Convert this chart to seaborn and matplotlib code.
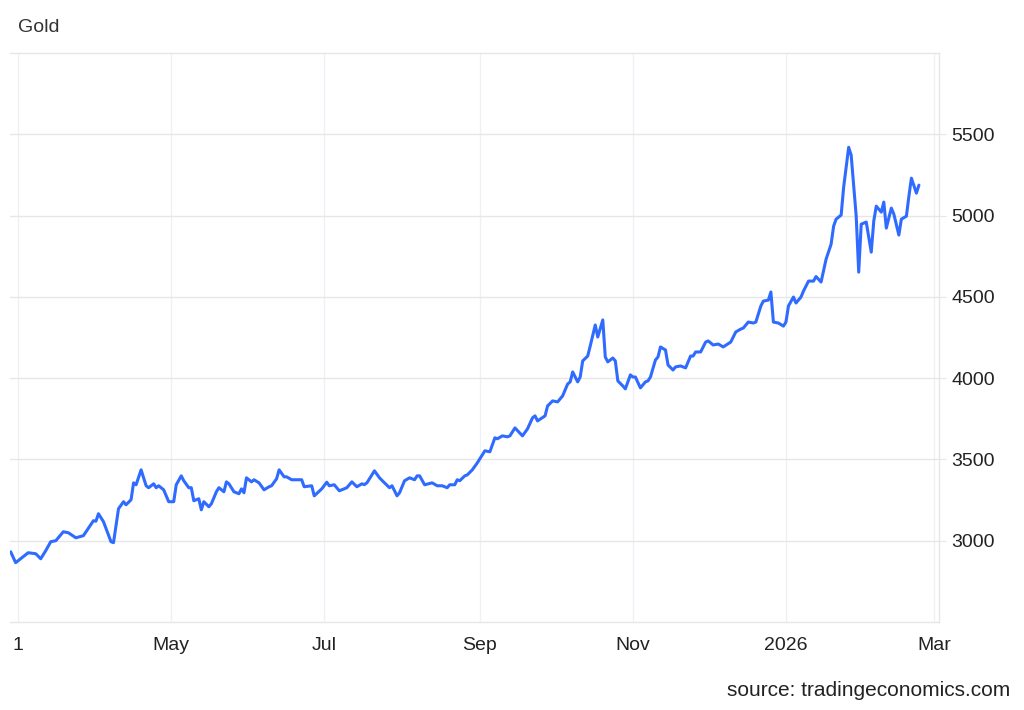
import pandas as pd
import numpy as np
import matplotlib
matplotlib.use("Agg")
from matplotlib import pyplot as plt
import seaborn as sns

# DATA
dates = [
    "2025-02-26", "2025-02-28", "2025-03-05", "2025-03-08", "2025-03-10", "2025-03-12",
    "2025-03-14", "2025-03-16", "2025-03-19", "2025-03-21", "2025-03-24", "2025-03-27",
    "2025-03-31", "2025-04-01", "2025-04-02", "2025-04-04", "2025-04-07", "2025-04-08",
    "2025-04-10", "2025-04-12", "2025-04-13", "2025-04-15", "2025-04-16", "2025-04-17",
    "2025-04-19", "2025-04-21", "2025-04-22", "2025-04-24", "2025-04-25", "2025-04-26",
    "2025-04-28", "2025-04-30", "2025-05-02", "2025-05-03", "2025-05-05", "2025-05-06",
    "2025-05-08", "2025-05-09", "2025-05-10", "2025-05-12", "2025-05-13", "2025-05-14",
    "2025-05-16", "2025-05-17", "2025-05-19", "2025-05-20", "2025-05-22", "2025-05-23",
    "2025-05-24", "2025-05-26", "2025-05-28", "2025-05-29", "2025-05-30", "2025-05-31",
    "2025-06-02", "2025-06-03", "2025-06-05", "2025-06-07", "2025-06-09", "2025-06-10",
    "2025-06-12", "2025-06-13", "2025-06-15", "2025-06-16", "2025-06-18", "2025-06-22",
    "2025-06-23", "2025-06-26", "2025-06-27", "2025-06-30", "2025-07-02", "2025-07-03",
    "2025-07-05", "2025-07-07", "2025-07-10", "2025-07-12", "2025-07-14", "2025-07-16",
    "2025-07-17", "2025-07-18", "2025-07-21", "2025-07-23", "2025-07-25", "2025-07-27",
    "2025-07-28", "2025-07-30", "2025-07-31", "2025-08-02", "2025-08-04", "2025-08-06",
    "2025-08-07", "2025-08-08", "2025-08-10", "2025-08-13", "2025-08-15", "2025-08-17",
    "2025-08-19", "2025-08-20", "2025-08-22", "2025-08-23", "2025-08-24", "2025-08-26",
    "2025-08-27", "2025-08-29", "2025-08-31", "2025-09-02", "2025-09-03", "2025-09-05",
    "2025-09-07", "2025-09-08", "2025-09-10", "2025-09-12", "2025-09-13", "2025-09-15",
    "2025-09-18", "2025-09-20", "2025-09-22", "2025-09-23", "2025-09-24", "2025-09-27",
    "2025-09-28", "2025-09-30", "2025-10-02", "2025-10-04", "2025-10-06", "2025-10-07",
    "2025-10-08", "2025-10-10", "2025-10-11", "2025-10-12", "2025-10-14", "2025-10-15",
    "2025-10-17", "2025-10-18", "2025-10-20", "2025-10-21", "2025-10-22", "2025-10-24",
    "2025-10-25", "2025-10-26", "2025-10-28", "2025-10-29", "2025-10-31", "2025-11-01",
    "2025-11-02", "2025-11-04", "2025-11-06", "2025-11-07", "2025-11-08", "2025-11-10",
    "2025-11-11", "2025-11-12", "2025-11-14", "2025-11-15", "2025-11-17", "2025-11-18",
    "2025-11-20", "2025-11-22", "2025-11-24", "2025-11-25", "2025-11-26", "2025-11-28",
    "2025-11-30", "2025-12-01", "2025-12-03", "2025-12-05", "2025-12-07", "2025-12-10",
    "2025-12-12", "2025-12-14", "2025-12-15", "2025-12-17", "2025-12-19", "2025-12-20",
    "2025-12-22", "2025-12-23", "2025-12-25", "2025-12-26", "2025-12-27", "2025-12-29",
    "2025-12-31", "2026-01-01", "2026-01-02", "2026-01-04", "2026-01-05", "2026-01-07",
    "2026-01-08", "2026-01-10", "2026-01-12", "2026-01-13", "2026-01-15", "2026-01-17",
    "2026-01-19", "2026-01-20", "2026-01-21", "2026-01-23", "2026-01-24", "2026-01-26",
    "2026-01-27", "2026-01-29", "2026-01-30", "2026-01-31", "2026-02-02", "2026-02-04",
    "2026-02-05", "2026-02-06", "2026-02-08", "2026-02-09", "2026-02-10", "2026-02-12",
    "2026-02-13", "2026-02-15", "2026-02-16", "2026-02-18", "2026-02-19", "2026-02-20",
    "2026-02-22", "2026-02-23",
]
prices = [
    2932, 2865, 2926, 2920, 2889, 2939,
    2994, 3000, 3055, 3049, 3018, 3031,
    3123, 3120, 3166, 3117, 2994, 2988,
    3197, 3240, 3221, 3252, 3356, 3344,
    3436, 3338, 3326, 3350, 3326, 3338,
    3313, 3240, 3240, 3344, 3399, 3369,
    3326, 3326, 3246, 3258, 3190, 3240,
    3209, 3227, 3301, 3326, 3301, 3362,
    3350, 3301, 3289, 3319, 3295, 3387,
    3362, 3375, 3356, 3313, 3332, 3338,
    3381, 3436, 3393, 3393, 3375, 3375,
    3332, 3338, 3276, 3319, 3360, 3338,
    3344, 3307, 3326, 3362, 3332, 3350,
    3345, 3356, 3430, 3387, 3356, 3326,
    3338, 3276, 3295, 3369, 3387, 3375,
    3399, 3399, 3344, 3356, 3338, 3338,
    3326, 3344, 3344, 3375, 3369, 3399,
    3405, 3436, 3479, 3528, 3553, 3547,
    3633, 3627, 3645, 3639, 3645, 3694,
    3645, 3688, 3756, 3768, 3737, 3768,
    3829, 3860, 3854, 3891, 3964, 3977,
    4038, 3977, 4007, 4106, 4136, 4198,
    4327, 4253, 4358, 4130, 4100, 4124,
    4106, 3983, 3952, 3934, 4020, 4007,
    4007, 3940, 3977, 3983, 4007, 4112,
    4130, 4192, 4173, 4081, 4050, 4069,
    4075, 4063, 4136, 4136, 4161, 4161,
    4222, 4229, 4204, 4210, 4192, 4222,
    4284, 4302, 4308, 4345, 4339, 4345,
    4444, 4474, 4480, 4530, 4345, 4339,
    4320, 4345, 4444, 4499, 4462, 4499,
    4536, 4597, 4597, 4625, 4591, 4732,
    4824, 4935, 4978, 5003, 5175, 5420,
    5371, 4996, 4652, 4947, 4960, 4775,
    4966, 5058, 5021, 5083, 4923, 5046,
    5009, 4880, 4978, 4996, 5119, 5230,
    5138, 5187,
]
tick_dates = ["2025-03-01", "2025-05-01", "2025-07-01", "2025-09-01",
              "2025-11-01", "2026-01-01", "2026-03-01"]
tick_labels = ["1", "May", "Jul", "Sep", "Nov", "2026", "Mar"]
y_ticks = [3000, 3500, 4000, 4500, 5000, 5500]

df = pd.DataFrame({"date": pd.to_datetime(dates), "price": prices})

sns.set_style("white")
plt.rcParams["font.family"] = ["Liberation Sans", "DejaVu Sans"]

fig = plt.figure(figsize=(10.24, 7.10), dpi=100)
ax = fig.add_axes([10 / 1024, (710 - 622) / 710, (939 - 10) / 1024, (622 - 53) / 710])

sns.lineplot(data=df, x="date", y="price", ax=ax, color="#2f6bff", linewidth=2.2)

ax.set_xlim(pd.Timestamp("2025-02-25 18:00"), pd.Timestamp("2026-03-03"))
ax.set_ylim(2500, 6000)

# gridlines
ax.set_xticks(pd.to_datetime(tick_dates))
ax.set_xticklabels(tick_labels)
ax.set_yticks(y_ticks)
ax.grid(axis="y", color="#e6e6e6", linewidth=1.0)
ax.grid(axis="x", color="#edf1f6", linewidth=1.0)
ax.set_axisbelow(True)

ax.yaxis.tick_right()
ax.tick_params(axis="y", length=5, color="#e6e6e6", labelsize=14, labelcolor="#222222", pad=4)
ax.tick_params(axis="x", length=0, labelsize=14, labelcolor="#222222", pad=11)
ax.set_xlabel("")
ax.set_ylabel("")

for side in ["top", "bottom", "right"]:
    ax.spines[side].set_color("#e6e6e6")
    ax.spines[side].set_linewidth(1.0)
ax.spines["left"].set_visible(False)

fig.text(18 / 1024, 1 - 27 / 710, "Gold", fontsize=14, color="#333333", va="center", ha="left")
fig.text(1010 / 1024, 1 - 690 / 710, "source: tradingeconomics.com", fontsize=15,
         color="#222222", va="center", ha="right")

fig.savefig("out.png", dpi=100)
